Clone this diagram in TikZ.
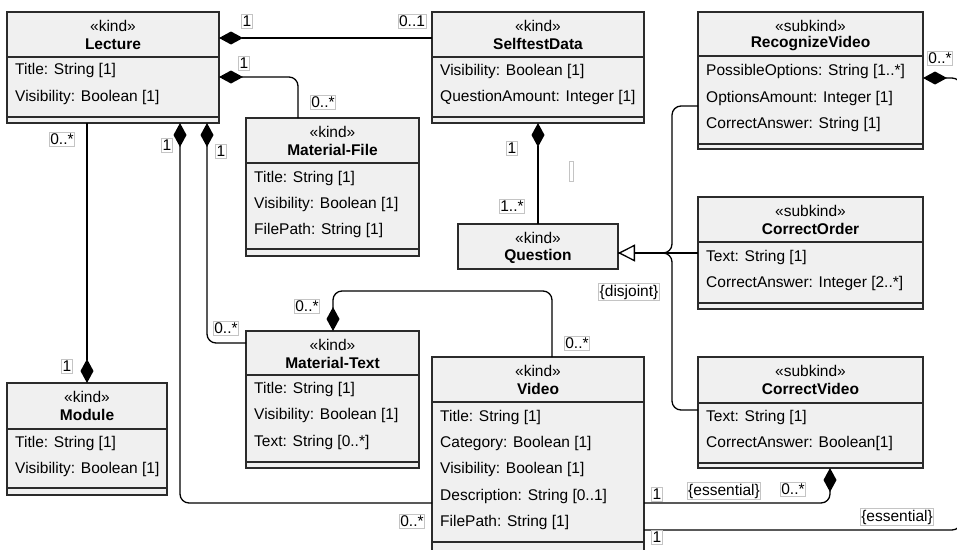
\documentclass[tikz,border=0pt]{standalone}
\usepackage{fontspec}
\setmainfont{Liberation Sans}
\usetikzlibrary{arrows.meta}
\definecolor{boxfill}{HTML}{F0F0F0}
\definecolor{boxline}{HTML}{2B2B2B}
\definecolor{lblline}{HTML}{C4C4C4}
\newcommand\fs{\fontsize{15.5}{18}\selectfont}
\tikzset{
  clsbox/.style={draw=boxline, fill=boxfill, line width=1.5pt, inner sep=0pt, outer sep=0pt},
  sepline/.style={draw=boxline, line width=1.5pt},
  stereo/.style={font=\fs, inner sep=0pt},
  cname/.style={font=\fs\bfseries, inner sep=0pt},
  attr/.style={font=\fs, inner sep=0pt, anchor=west},
  lbl/.style={font=\fs, draw=lblline, fill=white, line width=0.6pt, inner xsep=1pt, inner ysep=1.5pt},
  conn/.style={draw=black, line width=1.3pt, rounded corners=9pt},
  comp/.style={conn, {Diamond[length=24pt,width=13pt]}-},
  gen/.style={conn, {Triangle[open,length=17pt,width=17pt,fill=white]}-},
}
% name, x1, y1, x2, y2, header separator y, bottom separator y, stereotype, title
\newcommand\umlcls[9]{%
  \node[clsbox, minimum width={(#4-#2)*1pt}, minimum height={(#5-#3)*1pt}] (#1) at ({(#2+#4)/2},{(#3+#5)/2}) {};
  \draw[sepline] (#2,#6) -- (#4,#6);
  \draw[sepline] (#2,#7) -- (#4,#7);
  \node[stereo] (#1-st) at ({(#2+#4)/2},{#3+14}) {«#8»};
  \node[cname] (#1-nm) at ({(#2+#4)/2},{#3+32}) {#9};
}
\begin{document}
\begin{tikzpicture}[x=1pt,y=-1pt]
\clip (0,0) rectangle (957,549);
\fill[white] (0,0) rectangle (957,549);

% ---------- classes ----------
\umlcls{Lecture}{7}{12}{219}{123}{57}{117}{kind}{Lecture}
\node[attr] (Lecture-a1) at (15,70.5) {Title: String [1]};
\node[attr] (Lecture-a2) at (15,97) {Visibility: Boolean [1]};

\umlcls{Selftest}{432}{12}{644}{123}{57}{117}{kind}{SelftestData}
\node[attr] (Selftest-a1) at (440,71) {Visibility: Boolean [1]};
\node[attr] (Selftest-a2) at (440,97) {QuestionAmount: Integer [1]};

\umlcls{RecVideo}{698}{12}{923}{149}{56}{144}{subkind}{RecognizeVideo}
\node[attr] (RecVideo-a1) at (706,71) {PossibleOptions: String [1..*]};
\node[attr] (RecVideo-a2) at (706,98) {OptionsAmount: Integer [1]};
\node[attr] (RecVideo-a3) at (706,124) {CorrectAnswer: String [1]};

\umlcls{MatFile}{246}{118}{419}{256}{163}{249}{kind}{Material-File}
\node[attr] (MatFile-a1) at (254,178) {Title: String [1]};
\node[attr] (MatFile-a2) at (254,204) {Visibility: Boolean [1]};
\node[attr] (MatFile-a3) at (254,230) {FilePath: String [1]};

\node[clsbox, minimum width=160pt, minimum height=45pt] (Question) at (538,246.5) {};
\node[stereo] (Question-st) at (538,238) {«kind»};
\node[cname] (Question-nm) at (538,256.5) {Question};

\umlcls{CorOrder}{698}{197}{923}{309}{242}{303}{subkind}{CorrectOrder}
\node[attr] (CorOrder-a1) at (706,257) {Text: String [1]};
\node[attr] (CorOrder-a2) at (706,283) {CorrectAnswer: Integer [2..*]};

\umlcls{MatText}{246}{331}{419}{468}{375}{462}{kind}{Material-Text}
\node[attr] (MatText-a1) at (254,389) {Title: String [1]};
\node[attr] (MatText-a2) at (254,415.5) {Visibility: Boolean [1]};
\node[attr] (MatText-a3) at (254,442) {Text: String [0..*]};

\umlcls{Video}{432}{357}{644}{552}{402}{542}{kind}{Video}
\node[attr] (Video-a1) at (440,417) {Title: String [1]};
\node[attr] (Video-a2) at (440,443) {Category: Boolean [1]};
\node[attr] (Video-a3) at (440,469.5) {Visibility: Boolean [1]};
\node[attr] (Video-a4) at (440,496) {Description: String [0..1]};
\node[attr] (Video-a5) at (440,522) {FilePath: String [1]};

\umlcls{CorVideo}{698}{357}{923}{468}{403}{463}{subkind}{CorrectVideo}
\node[attr] (CorVideo-a1) at (706,417) {Text: String [1]};
\node[attr] (CorVideo-a2) at (706,443) {CorrectAnswer: Boolean[1]};

\umlcls{Module}{7}{383}{167}{495}{429}{488}{kind}{Module}
\node[attr] (Module-a1) at (15,443) {Title: String [1]};
\node[attr] (Module-a2) at (15,469) {Visibility: Boolean [1]};

% ---------- connectors ----------
\draw[comp] (Lecture.east |- 0,38) -- (Selftest.west |- 0,38);
\draw[comp] (Lecture.east |- 0,77) -| (298,0 |- MatFile.north);
\draw[comp] (Module.north) -- (Module.north |- Lecture.south);
\draw[comp] (180,0 |- Lecture.south) |- (Video.west |- 0,503);
\draw[comp] (207,0 |- Lecture.south) |- (MatText.west |- 0,343);
\draw[comp] (538,0 |- Selftest.south) -- (538,0 |- Question.north);
\draw[comp] (333,0 |- MatText.north) |- (552,291) -- (552,0 |- Video.north);
\draw[comp] (830,0 |- CorVideo.south) |- (Video.east |- 0,503);
\draw[comp] (RecVideo.east |- 0,78) -- (961,78) |- (Video.east |- 0,530);

% generalization set
\draw[conn] (CorOrder.west |- 0,253) -- (Question.east |- 0,253);
\draw[conn] (Question.east |- 0,253) -- (672,253) |- (CorVideo.west |- 0,410);
\draw[gen] (Question.east |- 0,253) -- (672,253) |- (RecVideo.west |- 0,106);

% ---------- labels ----------
\node[lbl] (m1) at (247,21) {1};
\node[lbl] (m2) at (412,21) {0..1};
\node[lbl] (m3) at (244,63) {1};
\node[lbl] (m4) at (323,102) {0..*};
\node[lbl] (m5) at (62,139) {0..*};
\node[lbl] (m6) at (167,145) {1};
\node[lbl] (m7) at (221,151) {1};
\node[lbl] (m8) at (512,148) {1};
\node[lbl] (m9) at (512,206) {1..*};
\node[lbl] (m10) at (67,366) {1};
\node[lbl] (m11) at (226,328) {0..*};
\node[lbl] (m12) at (307,306) {0..*};
\node[lbl] (m13) at (577,343) {0..*};
\node[lbl] (m14) at (412,521) {0..*};
\node[lbl] (m15) at (657,494) {1};
\node[lbl] (m16) at (724,491) {\{essential\}};
\node[lbl] (m17) at (793,489) {0..*};
\node[lbl] (m18) at (897,517) {\{essential\}};
\node[lbl] (m19) at (657,537) {1};
\node[lbl] (m20) at (940,58) {0..*};
\node[lbl] (m21) at (629,292) {\{disjoint\}};
\node[draw=lblline, line width=0.6pt, minimum width=4pt, minimum height=20pt, inner sep=0pt] (m22) at (571.5,171) {};
\end{tikzpicture}
\end{document}
